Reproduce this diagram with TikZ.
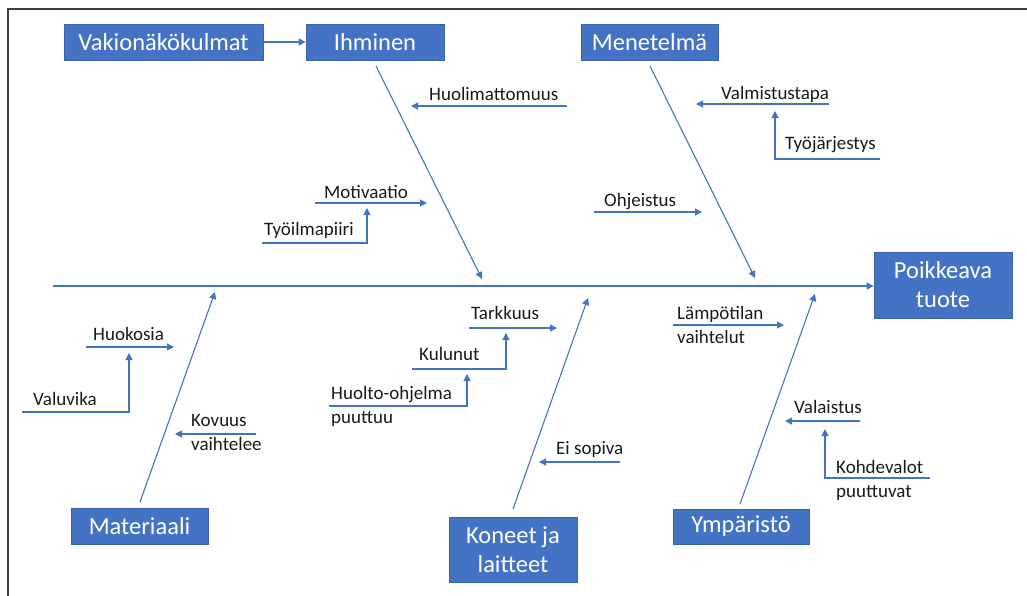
\documentclass[tikz,border=0pt]{standalone}
\usepackage{fontspec}
\setmainfont{Carlito}
\usetikzlibrary{arrows.meta}
\definecolor{obl}{HTML}{4472C4}
\definecolor{obd}{HTML}{3B64AD}
\definecolor{frm}{HTML}{404040}
\definecolor{txt}{HTML}{1A1A1A}
\tikzset{
  bx/.style={rectangle, fill=obl, draw=obd, line width=0.8pt, text=white, inner sep=0pt,
    font=\fontsize{24.5}{29}\selectfont, align=center},
  lbl/.style={inner sep=0pt, text=txt, font=\fontsize{19}{24}\selectfont, align=left, anchor=base west},
  ln/.style={draw=obl, line width=1.1pt},
  arr/.style={ln, -{Triangle[length=7pt,width=7pt]}},
}
\begin{document}
\begin{tikzpicture}[x=1pt,y=-1pt]
\useasboundingbox (0,0) rectangle (1027,595);
\draw[frm, line width=1.6pt] (8,600) -- (8,9) -- (1030,9);
% main boxes
\node[bx, minimum width=199pt, minimum height=36pt] (vak) at (163.5,42) {Vakionäkökulmat};
\node[bx, minimum width=138pt, minimum height=36pt] (ihm) at (375,42) {Ihminen};
\node[bx, minimum width=137pt, minimum height=36pt] (men) at (649.5,42) {Menetelmä};
\node[bx, minimum width=138pt, minimum height=66pt] (poi) at (943,285) {Poikkeava\\tuote};
\node[bx, minimum width=137pt, minimum height=36pt] (mat) at (139.5,526) {Materiaali};
\node[bx, minimum width=128pt, minimum height=65pt] (kon) at (513,549.5) {Koneet ja\\laitteet};
\node[bx, minimum width=136pt, minimum height=35pt] (ymp) at (741,526.5) {Ympäristö};
\draw[arr] (vak.east) -- (ihm.west);
% spine
\coordinate (sp0) at (53,286);
\draw[arr] (sp0) -- (poi.west |- sp0);
% bones
\coordinate (ihmA) at (376,66); \coordinate (ihmB) at (482,279);
\coordinate (menA) at (650,66); \coordinate (menB) at (755,278);
\coordinate (matA) at (140,502); \coordinate (matB) at (215,292);
\coordinate (konA) at (513,509); \coordinate (konB) at (588,298);
\coordinate (ympA) at (740,504); \coordinate (ympB) at (815,294);
\draw[arr] (ihmA) -- (ihmB);
\draw[arr] (menA) -- (menB);
\draw[arr] (matA) -- (matB);
\draw[arr] (konA) -- (konB);
\draw[arr] (ympA) -- (ympB);
% Ihminen causes
\node[lbl] (huol) at (429,100) {Huolimattomuus};
\coordinate (huolA) at (567,106); \coordinate (huolB) at (411,106);
\draw[arr] (huolA) -- (huolB);
\node[lbl] (moti) at (324,198) {Motivaatio};
\coordinate (motiA) at (315,203); \coordinate (motiB) at (427,203);
\draw[arr] (motiA) -- (motiB);
\node[lbl] (tyoi) at (264,235) {Työilmapiiri};
\coordinate (tyoiA) at (262,243); \coordinate (tyoiB) at (367,208);
\draw[arr] (tyoiA) -| (tyoiB);
% Menetelma causes
\node[lbl] (valm) at (721,99) {Valmistustapa};
\coordinate (valmA) at (829,104); \coordinate (valmB) at (696,104);
\draw[arr] (valmA) -- (valmB);
\node[lbl] (tyoj) at (785,149) {Työjärjestys};
\coordinate (tyojA) at (880,159); \coordinate (tyojB) at (775,111);
\draw[arr] (tyojA) -| (tyojB);
\node[lbl] (ohje) at (604,206) {Ohjeistus};
\coordinate (ohjeA) at (594,212); \coordinate (ohjeB) at (702,212);
\draw[arr] (ohjeA) -- (ohjeB);
% Materiaali causes
\node[lbl] (huok) at (93,340) {Huokosia};
\coordinate (huokA) at (86,347); \coordinate (huokB) at (174,347);
\draw[arr] (huokA) -- (huokB);
\node[lbl] (valu) at (33,405) {Valuvika};
\coordinate (valuA) at (22,412); \coordinate (valuB) at (129,353);
\draw[arr] (valuA) -| (valuB);
\node[lbl] (kovu) at (191,450) {Kovuus\\vaihtelee};
\coordinate (kovuA) at (256,434); \coordinate (kovuB) at (175,434);
\draw[arr] (kovuA) -- (kovuB);
% Koneet causes
\node[lbl] (tark) at (471,319) {Tarkkuus};
\coordinate (tarkA) at (469,328); \coordinate (tarkB) at (557,328);
\draw[arr] (tarkA) -- (tarkB);
\node[lbl] (kulu) at (419,360) {Kulunut};
\coordinate (kuluA) at (412,369); \coordinate (kuluB) at (506,333);
\draw[arr] (kuluA) -| (kuluB);
\node[lbl] (huolt) at (331,423) {Huolto-ohjelma\\puuttuu};
\coordinate (huoltA) at (329,406); \coordinate (huoltB) at (467,374);
\draw[arr] (huoltA) -| (huoltB);
\node[lbl] (eiso) at (556,454) {Ei sopiva};
\coordinate (eisoA) at (620,462); \coordinate (eisoB) at (539,462);
\draw[arr] (eisoA) -- (eisoB);
% Ymparisto causes
\node[lbl] (lamp) at (677,343) {Lämpötilan\\vaihtelut};
\coordinate (lampA) at (673,325); \coordinate (lampB) at (784,325);
\draw[arr] (lampA) -- (lampB);
\node[lbl] (vala) at (794,413) {Valaistus};
\coordinate (valaA) at (860,421); \coordinate (valaB) at (785,421);
\draw[arr] (valaA) -- (valaB);
\node[lbl] (kohd) at (836,497) {Kohdevalot\\puuttuvat};
\coordinate (kohdA) at (930,478); \coordinate (kohdB) at (825,429);
\draw[arr] (kohdA) -| (kohdB);
\end{tikzpicture}
\end{document}
